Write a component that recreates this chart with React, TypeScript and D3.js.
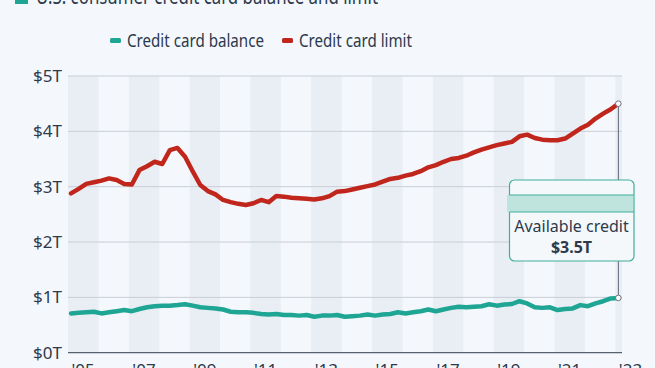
import { useEffect, useRef } from "react";
import * as d3 from "d3";

// quarterly values, 2005 Q1 .. 2023 Q1, in trillions of US dollars
const firstYear = 2005;

const balanceValues = [
    0.71, 0.72, 0.73, 0.74, 0.71, 0.73, 0.75, 0.77,
    0.75, 0.79, 0.82, 0.84, 0.85, 0.85, 0.86, 0.875,
    0.85, 0.82, 0.81, 0.8, 0.78, 0.74, 0.73, 0.73,
    0.72, 0.7, 0.69, 0.7, 0.68, 0.68, 0.67, 0.68,
    0.65, 0.67, 0.67, 0.68, 0.65, 0.66, 0.67, 0.69,
    0.67, 0.69, 0.7, 0.73, 0.71, 0.73, 0.75, 0.78,
    0.75, 0.78, 0.81, 0.83, 0.82, 0.83, 0.84, 0.875,
    0.85, 0.87, 0.88, 0.93, 0.89, 0.82, 0.81, 0.82,
    0.77, 0.79, 0.8, 0.86, 0.84, 0.89, 0.93, 0.98,
    0.99,
];

const limitValues = [
    2.88, 2.96, 3.05, 3.08, 3.11, 3.15, 3.12, 3.05,
    3.04, 3.3, 3.37, 3.45, 3.41, 3.66, 3.7, 3.54,
    3.28, 3.03, 2.92, 2.86, 2.76, 2.72, 2.69, 2.67,
    2.7, 2.76, 2.72, 2.83, 2.82, 2.8, 2.79, 2.78,
    2.77, 2.79, 2.83, 2.91, 2.92, 2.95, 2.98, 3.01,
    3.04, 3.09, 3.14, 3.16, 3.2, 3.23, 3.28, 3.35,
    3.39, 3.45, 3.5, 3.52, 3.56, 3.62, 3.67, 3.71,
    3.75, 3.78, 3.81, 3.91, 3.94, 3.88, 3.85, 3.84,
    3.84, 3.87, 3.96, 4.05, 4.12, 4.23, 4.32, 4.4,
    4.5,
];

const yTicks = [0, 1, 2, 3, 4, 5];
const yearLabels = ["'05", "'07", "'09", "'11", "'13", "'15", "'17", "'19", "'21", "'23"];
const bandYears = [2005, 2007, 2009, 2011, 2013, 2015, 2017, 2019, 2021, 2023];

const seriesNames = ["Credit card balance", "Credit card limit"];
const titleText = "U.S. consumer credit card balance and limit";
const calloutLabel = "Available credit";
const calloutValue = "$3.5T";

const FONT = "'Noto Sans', 'Open Sans', sans-serif";
const TEAL = "#1fa594";
const RED = "#c1261c";
const TEXT = "#2c3a4c";

export default function App() {
    const svgRef = useRef(null);

    useEffect(() => {
        const width = 655;
        const height = 368;

        const svg = d3.select(svgRef.current);
        svg.selectAll("*").remove();
        svg.attr("width", width).attr("height", height).style("font-family", FONT);

        svg.append("rect")
            .attr("width", width)
            .attr("height", height)
            .attr("fill", "#f4f7fb");

        const x = d3.scaleLinear().domain([2005, 2023.22]).range([68, 622]);
        const y = d3.scaleLinear().domain([0, 5]).range([352.7, 76]);

        const xOf = (i) => x(firstYear + 0.1 + i / 4);

        // alternating year bands
        svg.append("g")
            .selectAll("rect")
            .data(bandYears)
            .join("rect")
            .attr("x", (d) => x(d))
            .attr("y", y(5))
            .attr("width", (d) => Math.min(x(d + 1), x.range()[1]) - x(d))
            .attr("height", y(0) - y(5))
            .attr("fill", "#e9eef5");

        // grid
        svg.append("g")
            .selectAll("line")
            .data(yTicks.filter((d) => d > 0))
            .join("line")
            .attr("x1", x.range()[0])
            .attr("x2", x.range()[1])
            .attr("y1", (d) => y(d))
            .attr("y2", (d) => y(d))
            .attr("stroke", "#c9ced6")
            .attr("stroke-width", 1);

        svg.append("line")
            .attr("x1", x.range()[0])
            .attr("x2", x.range()[1])
            .attr("y1", y(0))
            .attr("y2", y(0))
            .attr("stroke", "#556070")
            .attr("stroke-width", 1.2);

        svg.append("g")
            .selectAll("text")
            .data(yTicks)
            .join("text")
            .attr("x", 62)
            .attr("y", (d) => y(d) + 6)
            .attr("text-anchor", "end")
            .attr("font-size", 17)
            .attr("fill", TEXT)
            .text((d) => `$${d}T`);

        svg.append("g")
            .selectAll("text")
            .data(bandYears)
            .join("text")
            .attr("x", (d) => x(d) + (x(d + 1) - x(d)) / 2)
            .attr("y", y(0) + 23)
            .attr("text-anchor", "middle")
            .attr("font-size", 17)
            .attr("fill", TEXT)
            .text((d, i) => yearLabels[i]);

        // lines
        const line = d3
            .line()
            .x((d, i) => xOf(i))
            .y((d) => y(d))
            .curve(d3.curveLinear);

        svg.append("path")
            .datum(limitValues)
            .attr("d", line)
            .attr("fill", "none")
            .attr("stroke", RED)
            .attr("stroke-width", 4.5)
            .attr("stroke-linejoin", "round")
            .attr("stroke-linecap", "round");

        svg.append("path")
            .datum(balanceValues)
            .attr("d", line)
            .attr("fill", "none")
            .attr("stroke", TEAL)
            .attr("stroke-width", 4.5)
            .attr("stroke-linejoin", "round")
            .attr("stroke-linecap", "round");

        // available credit callout
        const last = limitValues.length - 1;
        const lx = xOf(last);
        svg.append("line")
            .attr("x1", lx)
            .attr("x2", lx)
            .attr("y1", y(limitValues[last]))
            .attr("y2", y(balanceValues[last]))
            .attr("stroke", "#5b6574")
            .attr("stroke-width", 1);

        const box = svg.append("g");
        box.append("rect")
            .attr("x", 509.5)
            .attr("y", 180)
            .attr("width", 124.5)
            .attr("height", 81)
            .attr("rx", 5)
            .attr("fill", "#f5f8fb")
            .attr("stroke", "#3fae9e")
            .attr("stroke-width", 1.2);
        box.append("rect")
            .attr("x", 507)
            .attr("y", 195)
            .attr("width", 126)
            .attr("height", 17)
            .attr("fill", "#bfe4de");
        box.selectAll("line")
            .data([195, 212])
            .join("line")
            .attr("x1", 509.5)
            .attr("x2", 634)
            .attr("y1", (d) => d)
            .attr("y2", (d) => d)
            .attr("stroke", "#3fae9e")
            .attr("stroke-width", 1.2);
        box.append("text")
            .attr("x", 571.5)
            .attr("y", 232)
            .attr("text-anchor", "middle")
            .attr("font-size", 16)
            .attr("fill", TEXT)
            .text(calloutLabel);
        box.append("text")
            .attr("x", 571.5)
            .attr("y", 253)
            .attr("text-anchor", "middle")
            .attr("font-size", 16)
            .attr("font-weight", "bold")
            .attr("fill", TEXT)
            .text(calloutValue);

        svg.append("g")
            .selectAll("circle")
            .data([limitValues[last], balanceValues[last]])
            .join("circle")
            .attr("cx", lx)
            .attr("cy", (d) => y(d))
            .attr("r", 2.8)
            .attr("fill", "#ffffff")
            .attr("stroke", "#6b7280")
            .attr("stroke-width", 1);

        // legend
        const legendItems = [
            { name: seriesNames[0], color: TEAL, x: 110, len: 137 },
            { name: seriesNames[1], color: RED, x: 282, len: 113 },
        ];
        const legend = svg.append("g");
        legend.selectAll("rect")
            .data(legendItems)
            .join("rect")
            .attr("x", (d) => d.x)
            .attr("y", 38)
            .attr("width", 11)
            .attr("height", 5)
            .attr("rx", 1.5)
            .attr("fill", (d) => d.color);
        legend.selectAll("text")
            .data(legendItems)
            .join("text")
            .attr("x", (d) => d.x + 17)
            .attr("y", 47)
            .attr("font-size", 17.5)
            .attr("fill", TEXT)
            .attr("textLength", (d) => d.len)
            .attr("lengthAdjust", "spacingAndGlyphs")
            .text((d) => d.name);

        // title (cut off at the top)
        svg.append("rect")
            .attr("x", 15)
            .attr("y", -12)
            .attr("width", 13)
            .attr("height", 16)
            .attr("fill", TEAL);
        svg.append("text")
            .attr("x", 36)
            .attr("y", 3.5)
            .attr("font-size", 22)
            .attr("fill", TEXT)
            .attr("textLength", 342)
            .attr("lengthAdjust", "spacingAndGlyphs")
            .text(titleText);
    }, []);

    return (
        <div style={{ position: "fixed", left: 0, top: 0, width: 655, height: 368 }}>
            <svg ref={svgRef} style={{ display: "block" }} />
        </div>
    );
}
